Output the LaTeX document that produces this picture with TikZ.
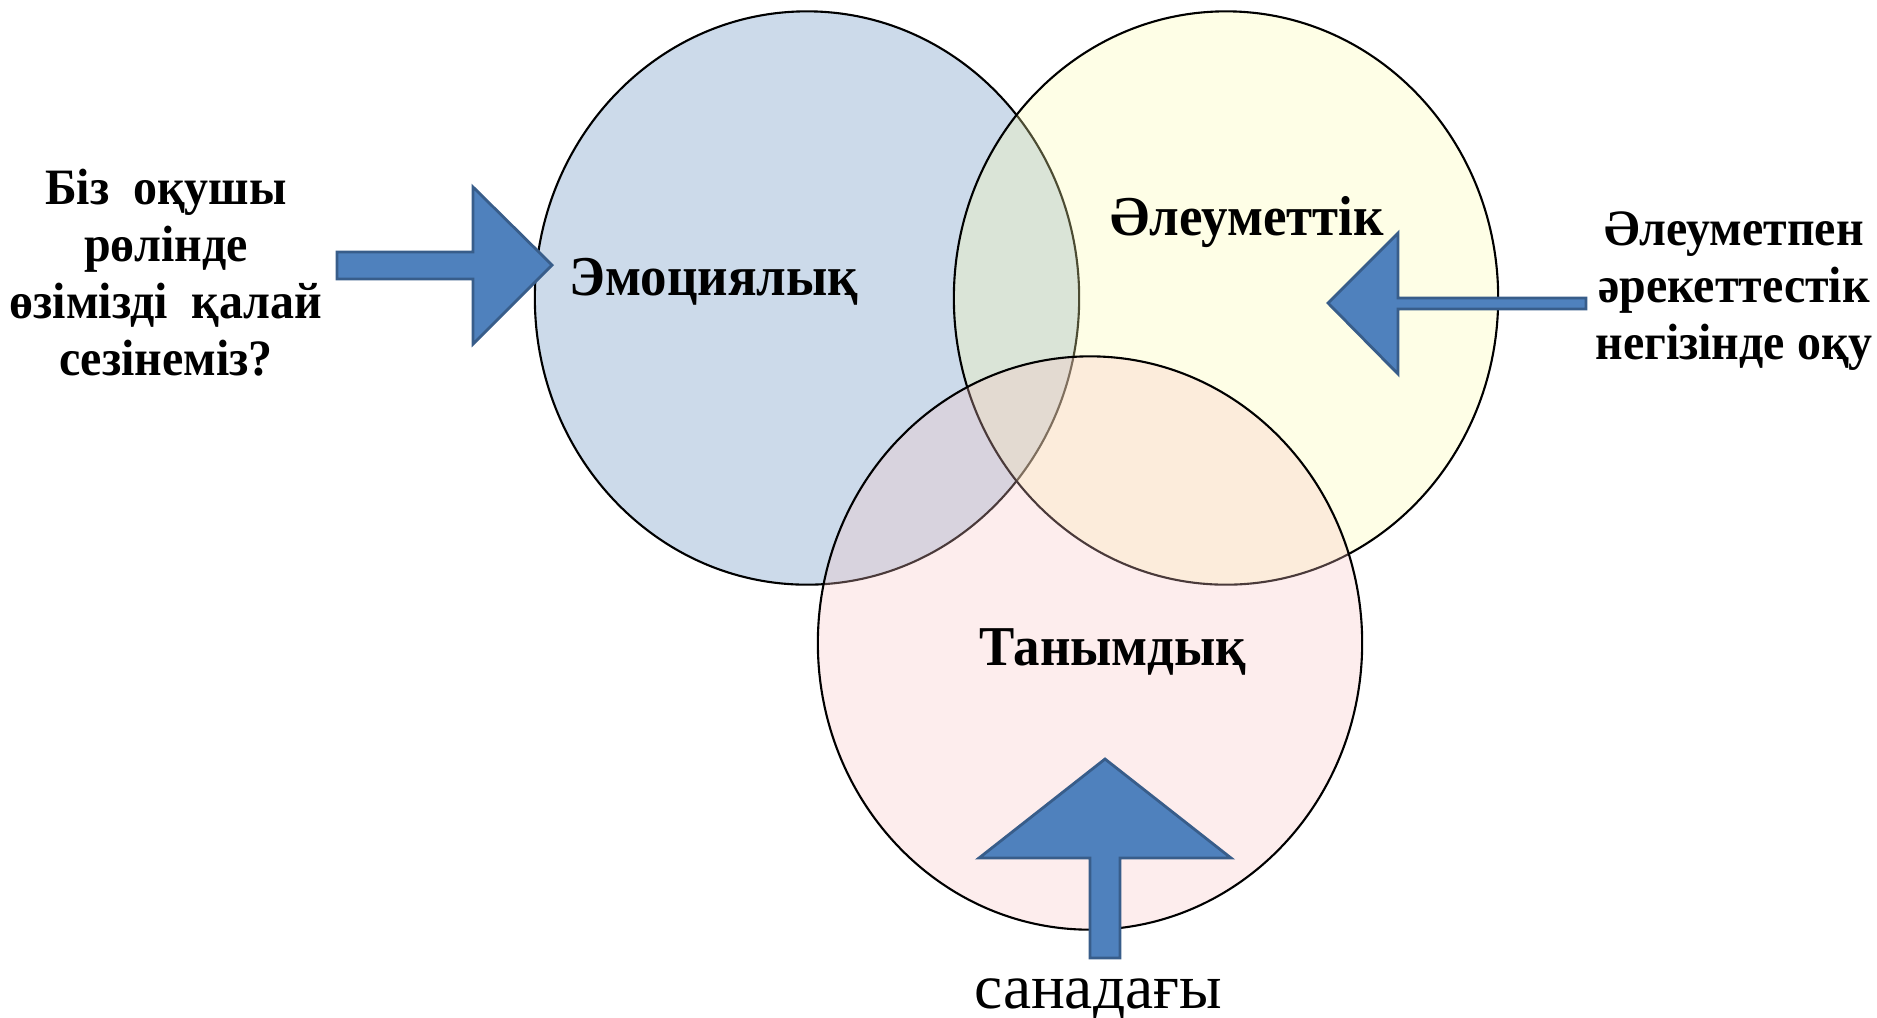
\documentclass[tikz,border=0pt]{standalone}
\usepackage{fontspec}
\setmainfont{Liberation Serif}
\newfontfamily\condserif{Liberation Serif}[FakeStretch=0.94]
\usetikzlibrary{positioning}

\definecolor{emoblue}{RGB}{85,132,185}
\definecolor{soccream}{RGB}{253,253,172}
\definecolor{cogpink}{RGB}{248,195,195}
\definecolor{arrowfill}{RGB}{79,129,189}
\definecolor{arrowedge}{RGB}{56,93,138}

\begin{document}
\begin{tikzpicture}[x=0.01cm,y=-0.01cm,
    venn/.style={draw=black,line width=0.6pt,fill opacity=0.3},
    blockarrow/.style={fill=arrowfill,draw=arrowedge,line width=0.8pt,line join=miter},
    lbl/.style={font=\condserif\fontsize{16}{19}\selectfont\bfseries,anchor=base},
    side/.style={font=\condserif\fontsize{14.5}{16.2}\selectfont\bfseries,align=center}]
      \useasboundingbox (0,0) rectangle (1877,1017);
      % the three circles
      \draw[venn,fill=emoblue] (807,298) ellipse [x radius=2.72cm,y radius=2.865cm];
      \draw[venn,fill=soccream] (1226,298) ellipse [x radius=2.72cm,y radius=2.865cm];
      \draw[venn,fill=cogpink] (1090,643) ellipse [x radius=2.72cm,y radius=2.865cm];

      \node[lbl] (emo) at (714,295) {Эмоциялық};
      \node[lbl] (soc) at (1247,235) {Әлеуметтік};
      \node[lbl] (cog) at (1113,665) {Танымдық};

      % block arrows
      \draw[blockarrow] (337,252) -- (473,252) -- (473,187) -- (552,265)
      			-- (473,344) -- (473,279) -- (337,279) -- cycle;
      \draw[blockarrow] (1586,298) -- (1398,298) -- (1398,233) -- (1328,303)
      			-- (1398,374) -- (1398,309) -- (1586,309) -- cycle;
      \draw[blockarrow] (1090,958) -- (1090,858) -- (979,858) -- (1105,759)
      			-- (1231,858) -- (1120,858) -- (1120,958) -- cycle;

      \node[side] (ask) at (166,273) {Біз\ \ оқушы\\рөлінде\\өзімізді\ \ қалай\\сезінеміз?};
      \node[side] (inter) at (1734,291) {Әлеуметпен\\әрекеттестік\\негізінде оқу};
      \node[font=\fontsize{18}{21}\selectfont,anchor=base] (aware) at (1098,1008) {санадағы};
    \end{tikzpicture}
\end{document}
